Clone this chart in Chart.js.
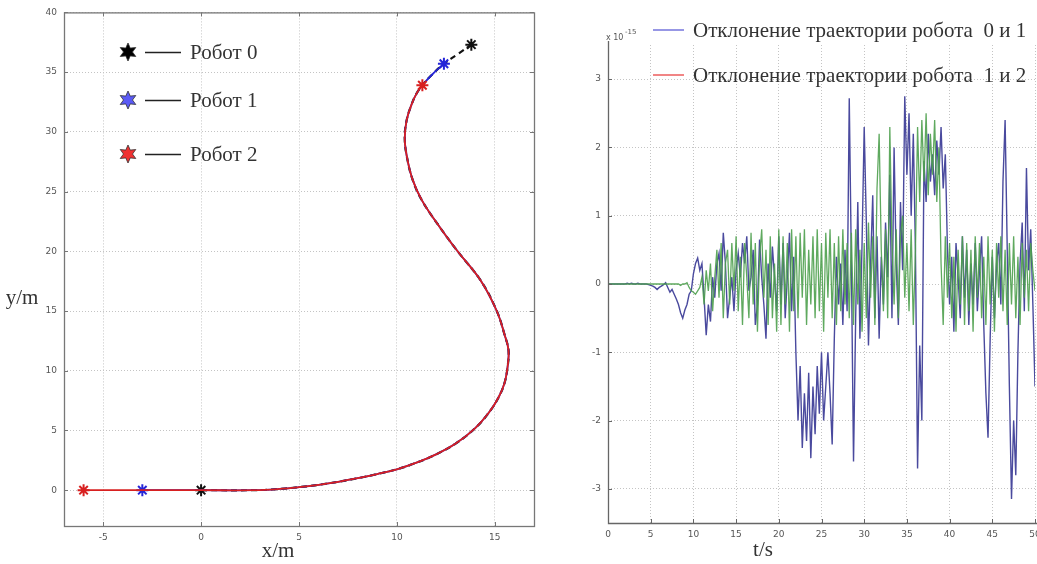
<!DOCTYPE html>
<html>
<head>
<meta charset="utf-8">
<script src="https://cdn.jsdelivr.net/npm/chart.js@4.4.1/dist/chart.umd.min.js"></script>
<style>
  html, body { margin: 0; padding: 0; background: #fff; overflow: hidden; width: 1037px; height: 564px; }
  #traj { position: absolute; left: 0; top: 0; }
  #dev { position: absolute; left: 560px; top: 0; }
</style>
</head>
<body>
<canvas id="traj" width="560" height="564"></canvas>
<canvas id="dev" width="500" height="564"></canvas>
<script>
// ---- trajectory (left) ----
const pathX = [-6, -3, 0, 2.7, 4, 5, 6, 7, 8, 9, 10, 11, 12, 13, 14, 14.7, 15.2, 15.5, 15.65, 15.7, 15.5, 15.1, 14.3, 13.1, 12.2, 11.3, 10.8, 10.5, 10.4, 10.5, 10.75, 11.0, 11.3, 11.8, 12.4, 13.1, 13.8];
const pathY = [0, 0, 0, 0, 0.1, 0.25, 0.45, 0.7, 1.0, 1.35, 1.75, 2.3, 3.0, 3.9, 5.2, 6.5, 7.8, 9, 10.3, 11.7, 13, 15, 17.5, 20, 22, 24.2, 26, 28, 29.5, 31, 32.3, 33.2, 33.9, 34.8, 35.7, 36.5, 37.3];
const robotNames = ['Робот 0', 'Робот 1', 'Робот 2'];
const robotFrom = [2, 1, 0];
const robotTo = [36, 34, 32];
const robotColors = ['#111111', '#2525d8', '#d82020'];
const legendColors = ['#000000', '#5a5af5', '#f03030'];
const trajXTicks = [-5, 0, 5, 10, 15];
const trajYTicks = [0, 5, 10, 15, 20, 25, 30, 35, 40];

// ---- deviation (right), samples every 0.25 s, units of 1e-15 ----
const tStep = 0.25;
const dev01 = [
  0, 0, 0, 0,  0, 0, 0, 0,  0, 0.01, 0, 0.01,  0, 0, 0.01, 0,  0, 0, 0, -0.01,
  -0.02, -0.03, -0.05, -0.08,  -0.05, -0.03, -0.01, 0.02,  -0.05, -0.12, -0.08, -0.15,
  -0.22, -0.3, -0.42, -0.5,  -0.38, -0.3, -0.15, -0.1,
  0.15, 0.3, 0.38, 0.2,  0.3, -0.2, -0.75, -0.3,  -0.55, 0.1, -0.2, 0.3,  0.45, -0.1, 0.75, 0.3,
  -0.5, -0.2, 0.1, -0.4,  0.2, 0.45, 0.1, 0.6,  0.3, 0.7, -0.1, 0.1,  0.5, -0.6, -0.3, 0.65,
  0.1, -0.3, -0.8, 0.3,  -0.2, 0.55, 0.1, -0.4,  0.7, -0.3, 0.6, -0.5,  0.1, 0.75, -0.4, 0.4,
  -1.0, -2.0, -1.2, -2.4,  -1.6, -2.3, -1.3, -2.55,  -1.5, -2.2, -1.2, -1.9,  -1.0, -2.0, -1.5, -1.0,
  -1.6, -2.35, -0.8, 0.4,  -0.3, 0.3, -0.6, 0.5,  -0.4, 2.72, 0.3, -2.6,  -0.5, 1.2, -0.8, 0.6,
  2.3, 0.9, -0.9, 0.3,  1.3, -0.5, 0.7, -0.8,  0.4, -0.3, 0.9, 0.1,  1.6, -0.5, 2.0, 0.3,
  -0.6, 1.2, 0.2, 2.75,  1.6, 2.5, 1.0, 2.2,  0.5, -2.7, -0.9, -2.0,  1.8, 1.2, 2.2, 1.5,
  1.9, 1.3, 2.1, 1.6,  2.3, 1.4, 1.9, 0.5,  -0.3, 0.4, -0.7, 0.6,  0.1, -0.5, 0.7, -0.2,
  0.5, -0.6, 0.3, -0.3,  0.6, -0.4, 0.2, 0.7,  -0.6, -1.6, -2.25, -0.8,  0.4, -0.5, 0.3, 0.6,
  -0.3, 1.5, 2.4, 0.5,  -1.5, -3.15, -2.0, -2.8,  -1.0, 0.3, 0.9, -0.4,  1.7, 0.2, 0.8, -0.3,
  -1.5
];
const dev12 = [
  0, 0, 0, 0,  0, 0, 0, 0,  0, 0, 0, 0,  0, 0, 0, 0,  0, 0, 0, 0,  0, 0, 0, 0,  0, 0, 0, 0,  0, 0, 0, 0,
  0, 0, -0.02, 0,  0, 0.02, -0.05, -0.1,
  -0.12, -0.15, -0.1, -0.05,  0.1, -0.3, 0.2, -0.1,  0.3, -0.4, 0.1, 0.5,  -0.2, 0.6, -0.5, 0.3,
  0.5, -0.3, 0.6, -0.1,  0.7, -0.4, 0.4, -0.6,  0.6, 0.1, -0.5, 0.75,  -0.3, 0.6, -0.7, 0.4,
  0.8, -0.2, 0.5, -0.6,  0.7, -0.5, 0.3, -0.7,  0.8, -0.6, 0.7, -0.3,  0.6, -0.7, 0.8, -0.4,
  0.7, -0.5, 0.75, -0.2,  0.8, -0.6, 0.5, -0.3,  0.7, -0.5, 0.8, -0.4,  0.6, -0.7, 0.75, -0.2,
  0.8, -0.5, 0.6, -0.6,  0.7, -0.4, 0.8, -0.3,  0.6, -0.5, 0.75, -0.6,  0.8, -0.3, 0.5, -0.7,
  0.6, -0.5, 0.9, -0.2,  0.7, -0.6, 1.4, 2.2,  0.5, -0.4, 0.8, -0.5,  2.3, 0.6, -0.3, 0.8,
  -0.5, 0.7, 1.0, -0.2,  0.6, -0.4, 0.8, -0.6,  0.5, 2.3, 1.2, 2.4,  1.5, 2.5, 1.3, 2.2,
  1.6, 2.4, 1.2, 2.0,  0.3, -0.6, 0.7, -0.2,  0.6, -0.5, 0.4, -0.7,  0.5, -0.3, 0.7, -0.6,
  0.6, -0.4, 0.5, -0.7,  0.7, -0.2, 0.6, -0.5,  0.4, -0.6, 0.7, -0.3,  0.5, -0.7, 0.6, -0.2,
  0.7, -0.4, 0.5, -0.6,  0.6, -0.3, 0.7, -0.5,  0.4, -0.6, 0.6, -0.2,  0.5, -0.4, 0.6, 0.2,
  -0.1
];
const devNames = ['Отклонение траектории робота  0 и 1', 'Отклонение траектории робота  1 и 2'];
const devXTicks = [0, 5, 10, 15, 20, 25, 30, 35, 40, 45, 50];
const devYTicks = [-3, -2, -1, 0, 1, 2, 3];

const tickFont = { family: 'DejaVu Sans', size: 9 };
const serif = '"Liberation Serif", "DejaVu Serif", serif';
const gridStyle = { color: '#c4c4c4', lineWidth: 1, drawTicks: false };
// dotted grid lines, no library axis line (frame is drawn by hand)
const dottedBorder = { display: false, dash: [1, 2] };

// 6-point star for the legend
function hexagram(ctx, cx, cy, r, fill) {
  ctx.beginPath();
  for (let i = 0; i < 12; i++) {
    const a = -Math.PI / 2 + i * Math.PI / 6;
    const rr = i % 2 === 0 ? r : r * 0.5;
    const px = cx + rr * Math.cos(a), py = cy + rr * Math.sin(a);
    i === 0 ? ctx.moveTo(px, py) : ctx.lineTo(px, py);
  }
  ctx.closePath();
  ctx.fillStyle = fill;
  ctx.fill();
  ctx.strokeStyle = '#333';
  ctx.lineWidth = 0.8;
  ctx.stroke();
}

function insideTicks(ctx, chart, xs, ys, sides) {
  const a = chart.chartArea, sx = chart.scales.x, sy = chart.scales.y;
  ctx.beginPath();
  xs.forEach(v => {
    const p = Math.round(sx.getPixelForValue(v)) + 0.5;
    ctx.moveTo(p, a.bottom); ctx.lineTo(p, a.bottom - 4);
    if (sides) { ctx.moveTo(p, a.top); ctx.lineTo(p, a.top + 4); }
  });
  ys.forEach(v => {
    const p = Math.round(sy.getPixelForValue(v)) + 0.5;
    ctx.moveTo(a.left, p); ctx.lineTo(a.left + 4, p);
    if (sides) { ctx.moveTo(a.right, p); ctx.lineTo(a.right - 4, p); }
  });
  ctx.stroke();
}

// ---- left chart ----
const trajSets = robotNames.map((name, i) => {
  const pts = [];
  for (let k = robotFrom[i]; k <= robotTo[i]; k++) pts.push({ x: pathX[k], y: pathY[k] });
  const last = pts.length - 1;
  return {
    label: name,
    data: pts,
    showLine: true,
    borderColor: robotColors[i],
    backgroundColor: robotColors[i],
    borderWidth: i === 0 ? 2.2 : 1.8,
    borderDash: i === 0 ? [6, 4] : [],
    tension: 0.4,
    pointStyle: 'star',
    pointBorderColor: robotColors[i],
    pointBorderWidth: 2,
    pointRadius: c => (c.dataIndex === 0 || c.dataIndex === last) ? 6 : 0,
    order: 3 - i
  };
});

const trajExtras = {
  id: 'trajExtras',
  afterDraw(chart) {
    const ctx = chart.ctx, a = chart.chartArea;
    ctx.save();
    ctx.strokeStyle = '#777';
    ctx.lineWidth = 1.3;
    ctx.strokeRect(a.left + 0.5, a.top + 0.5, a.right - a.left, a.bottom - a.top);
    ctx.lineWidth = 1;
    insideTicks(ctx, chart, trajXTicks, trajYTicks, true);

    // legend block
    const rows = [52, 100, 154];
    ctx.font = '21px ' + serif;
    ctx.textBaseline = 'middle';
    rows.forEach((y, i) => {
      hexagram(ctx, 128, y, 9, legendColors[i]);
      ctx.strokeStyle = '#222';
      ctx.lineWidth = 1.3;
      ctx.beginPath(); ctx.moveTo(145, y + 0.5); ctx.lineTo(181, y + 0.5); ctx.stroke();
      ctx.fillStyle = '#333';
      ctx.fillText(robotNames[i], 190, y + 1);
    });

    ctx.textAlign = 'center';
    ctx.fillText('x/m', 278, 551);
    ctx.fillText('y/m', 22, 298);
    ctx.restore();
  }
};

new Chart(document.getElementById('traj'), {
  type: 'scatter',
  data: { datasets: trajSets },
  options: {
    responsive: false,
    animation: false,
    layout: { padding: { left: 0, top: 10, right: 26, bottom: 0 } },
    plugins: { legend: { display: false }, tooltip: { enabled: false } },
    scales: {
      x: {
        type: 'linear', min: -7, max: 17,
        afterBuildTicks: s => { s.ticks = trajXTicks.map(v => ({ value: v })); },
        afterFit: s => { s.height = 38; },
        grid: gridStyle,
        border: dottedBorder,
        ticks: { font: tickFont, color: '#555', padding: 6 }
      },
      y: {
        type: 'linear', min: -3, max: 40,
        afterBuildTicks: s => { s.ticks = trajYTicks.map(v => ({ value: v })); },
        afterFit: s => { s.width = 64; },
        grid: gridStyle,
        border: dottedBorder,
        ticks: { font: tickFont, color: '#555', padding: 7 }
      }
    }
  },
  plugins: [trajExtras]
});

// ---- right chart ----
const toPoints = arr => arr.map((v, k) => ({ x: k * tStep, y: v }));

const devExtras = {
  id: 'devExtras',
  afterDraw(chart) {
    const ctx = chart.ctx, a = chart.chartArea;
    ctx.save();
    ctx.strokeStyle = '#666';
    ctx.lineWidth = 1.3;
    ctx.beginPath();
    ctx.moveTo(a.left + 0.5, a.top - 4);
    ctx.lineTo(a.left + 0.5, a.bottom + 0.5);
    ctx.lineTo(a.right + 10, a.bottom + 0.5);
    ctx.stroke();
    ctx.lineWidth = 1;
    insideTicks(ctx, chart, devXTicks, devYTicks, false);

    // exponent
    ctx.fillStyle = '#555';
    ctx.font = '8px "DejaVu Sans"';
    ctx.textBaseline = 'alphabetic';
    ctx.fillText('x 10', 46, 40);
    ctx.font = '7px "DejaVu Sans"';
    ctx.fillText('-15', 65, 34);

    // legend
    const rows = [30, 75];
    const cols = ['#7474dc', '#ec5c5c'];
    ctx.font = '21px ' + serif;
    ctx.textBaseline = 'middle';
    rows.forEach((y, i) => {
      ctx.strokeStyle = cols[i];
      ctx.lineWidth = 1.5;
      ctx.beginPath(); ctx.moveTo(93, y); ctx.lineTo(124, y); ctx.stroke();
      ctx.fillStyle = '#333';
      ctx.fillText(devNames[i], 133, y + 1);
    });

    ctx.textAlign = 'center';
    ctx.fillText('t/s', 203, 550);
    ctx.restore();
  }
};

new Chart(document.getElementById('dev'), {
  type: 'line',
  data: {
    datasets: [
      { label: devNames[0], data: toPoints(dev01), borderColor: '#4a4a9e', borderWidth: 1.4, pointRadius: 0, tension: 0, order: 2 },
      { label: devNames[1], data: toPoints(dev12), borderColor: 'rgba(78,160,78,0.9)', borderWidth: 1.3, pointRadius: 0, tension: 0, order: 1 }
    ]
  },
  options: {
    responsive: false,
    animation: false,
    layout: { padding: { left: 0, top: 45, right: 25, bottom: 0 } },
    plugins: { legend: { display: false }, tooltip: { enabled: false } },
    scales: {
      x: {
        type: 'linear', min: 0, max: 50,
        afterBuildTicks: s => { s.ticks = devXTicks.map(v => ({ value: v })); },
        afterFit: s => { s.height = 41; },
        grid: gridStyle,
        border: dottedBorder,
        ticks: { font: tickFont, color: '#555', padding: 6, maxRotation: 0 }
      },
      y: {
        type: 'linear', min: -3.5, max: 3.5,
        afterBuildTicks: s => { s.ticks = devYTicks.map(v => ({ value: v })); },
        afterFit: s => { s.width = 48; },
        grid: gridStyle,
        border: dottedBorder,
        ticks: { font: tickFont, color: '#555', padding: 7 }
      }
    }
  },
  plugins: [devExtras]
});
</script>
</body>
</html>
